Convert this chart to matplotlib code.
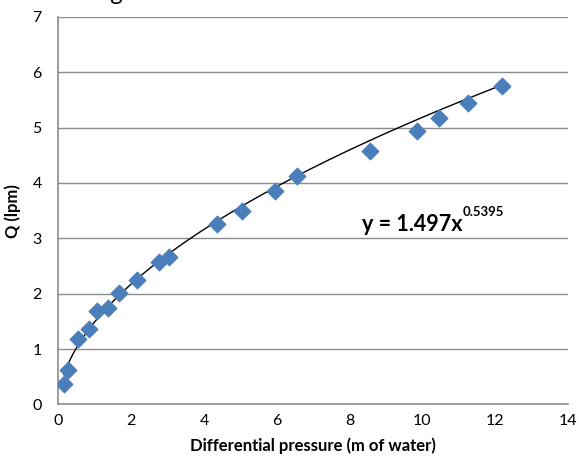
import numpy as np
import matplotlib.pyplot as plt

dp = [0.15, 0.25, 0.55, 0.85, 1.05, 1.35, 1.65, 2.15, 2.75, 3.05,
      4.35, 5.05, 5.95, 6.55, 8.55, 9.85, 10.45, 11.25, 12.2]
q = [0.37, 0.62, 1.18, 1.36, 1.68, 1.75, 2.01, 2.25, 2.57, 2.67,
     3.25, 3.49, 3.86, 4.12, 4.57, 4.94, 5.18, 5.44, 5.75]

# power fit shown on the chart
coef = 1.497
expo = 0.5395

xticks = [0, 2, 4, 6, 8, 10, 12, 14]
yticks = [0, 1, 2, 3, 4, 5, 6, 7]

plt.rcParams['font.family'] = ['Lato', 'DejaVu Sans']

fig = plt.figure(figsize=(5.79, 4.66), dpi=100)
ax = fig.add_axes([0.101, 0.132, 0.880, 0.832])

grid_col = '#8c8c8c'
for yv in yticks[1:]:
    ax.axhline(yv, color=grid_col, lw=1.0, zorder=1)

xf = np.linspace(min(dp), max(dp), 200)
ax.plot(xf, coef * xf ** expo, color='black', lw=1.0, zorder=2)

ax.scatter(dp, q, marker='D', s=78, color='#4a7ebb', edgecolors='#4a7ebb',
           linewidths=0.5, zorder=3)

ax.set_xlim(0, 14)
ax.set_ylim(0, 7)
ax.set_xticks(xticks)
ax.set_yticks(yticks)
ax.tick_params(length=0, labelsize=11.5, pad=7)
ax.tick_params(axis='y', pad=12)
for s in ['top', 'right']:
    ax.spines[s].set_visible(False)
for s in ['left', 'bottom']:
    ax.spines[s].set_color(grid_col)
    ax.spines[s].set_linewidth(1.2)

ax.set_xlabel('Differential pressure (m of water)', fontsize=12,
              fontweight='bold', labelpad=7)
ax.set_ylabel('Q (lpm)', fontsize=12, fontweight='bold', labelpad=8)

eq = ax.text(8.35, 3.25, 'y = 1.497x', fontsize=15.5,
             fontweight='bold', va='center', ha='left')
ax.annotate('0.5395', xy=(1, 0.8), xycoords=eq, fontsize=9.5,
            fontweight='bold', va='bottom', ha='left')

# cut-off line of document text above the chart
fig.text(-0.005, 1.015, 'shown in fig 1.', fontsize=17, va='center',
         ha='left')

fig.savefig('out.png', dpi=100)
